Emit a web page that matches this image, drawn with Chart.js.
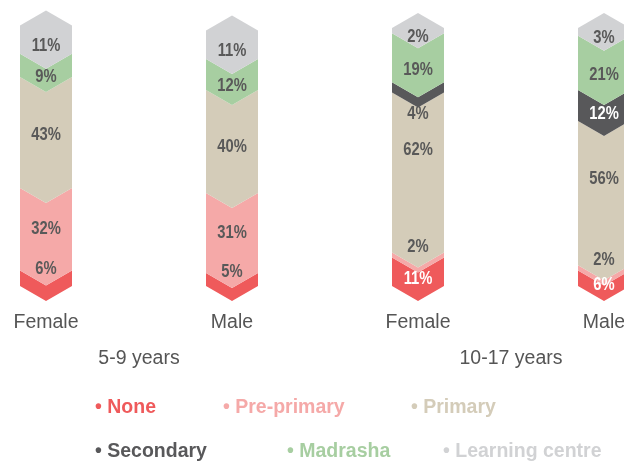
<!DOCTYPE html>
<html>
<head>
<meta charset="utf-8">
<script src="https://cdn.jsdelivr.net/npm/chart.js@4.4.0/dist/chart.umd.min.js"></script>
<style>
  html, body { margin: 0; padding: 0; background: #fff; }
</style>
</head>
<body>
<canvas id="eduChart" width="624" height="463"></canvas>
<script>
// DATA
const categories = ['Female', 'Male', 'Female', 'Male'];
const ageGroups = ['5-9 years', '10-17 years'];
const seriesNames = ['None', 'Pre-primary', 'Primary', 'Secondary', 'Madrasha', 'Learning centre'];
const none = [6, 5, 11, 6];
const prePrimary = [32, 31, 2, 2];
const primary = [43, 40, 62, 56];
const secondary = [0, 0, 4, 12];
const madrasha = [9, 12, 19, 21];
const learningCentre = [11, 11, 2, 3];
const seriesData = [none, prePrimary, primary, secondary, madrasha, learningCentre];

// STYLE
const colors = ['#ef5a5b', '#f5a9a8', '#d4ccb9', '#58585a', '#a7cea1', '#d1d2d4'];
const textDark = '#595959';
const chevron = 15;
const labelShift = [0.45, 0, 0.4, 0.6, 0.8, 0.4];
const legendSpots = [[95, 408], [223, 408], [411, 408], [95, 452], [287, 452], [443, 452]];
const fontMain = "'Liberation Sans', Arial, sans-serif";

// chevron shaped segments + percent labels
const chevronBars = {
    id: 'chevronBars',
    beforeDatasetsDraw(chart) {
        const ctx = chart.ctx;
        const sets = chart.data.datasets;
        ctx.save();
        for (let col = 0; col < chart.data.labels.length; col++) {
            let topIdx = -1;
            sets.forEach((ds, i) => { if (ds.data[col] > 0) topIdx = i; });

            sets.forEach((ds, i) => {
                if (!ds.data[col]) return;
                const bar = chart.getDatasetMeta(i).data[col];
                const l = bar.x - bar.width / 2, r = bar.x + bar.width / 2;
                ctx.beginPath();
                ctx.moveTo(l, bar.base);
                ctx.lineTo(bar.x, bar.base + chevron);
                ctx.lineTo(r, bar.base);
                ctx.lineTo(r, bar.y);
                ctx.lineTo(bar.x, i === topIdx ? bar.y - chevron : bar.y + chevron);
                ctx.lineTo(l, bar.y);
                ctx.closePath();
                ctx.fillStyle = ds.backgroundColor;
                ctx.fill();
            });

            ctx.font = "bold 18px " + fontMain;
            ctx.textAlign = 'center';
            ctx.textBaseline = 'middle';
            sets.forEach((ds, i) => {
                const v = ds.data[col];
                if (!v) return;
                const bar = chart.getDatasetMeta(i).data[col];
                const h = bar.base - bar.y;
                let y = (bar.y + bar.base) / 2 + labelShift[i] * chevron;
                let color = textDark;
                if (i === 0) {
                    if (sets[1].data[col] >= 10) y = bar.y - 1;
                    else color = '#fff';
                } else if (i === 1 && v < 5) {
                    y = bar.y - 5;
                } else if (i === 2) {
                    y = bar.y + Math.min(h / 2 + 6, 58);
                } else if (i === 3) {
                    if (v < 6) y = bar.base + chevron + 7;
                    else color = '#fff';
                }
                // squeeze the text a bit, the original uses a narrow face
                ctx.save();
                ctx.translate(bar.x, y);
                ctx.scale(0.82, 1);
                ctx.fillStyle = color;
                ctx.fillText(v + '%', 0, 0);
                ctx.restore();
            });
        }
        ctx.restore();
        return false;
    }
};

// age groups and legend under the axis
const textLayer = {
    id: 'textLayer',
    afterDraw(chart) {
        const ctx = chart.ctx;
        const x = chart.scales.x;
        ctx.save();
        ctx.textBaseline = 'middle';
        ctx.textAlign = 'center';
        ctx.fillStyle = '#555';
        ctx.font = "19.5px " + fontMain;
        ageGroups.forEach((g, k) => {
            const cx = (x.getPixelForValue(k * 2) + x.getPixelForValue(k * 2 + 1)) / 2;
            ctx.fillText(g, cx, 359);
        });

        ctx.textAlign = 'left';
        ctx.font = "bold 19.5px " + fontMain;
        seriesNames.forEach((name, i) => {
            ctx.fillStyle = colors[i];
            ctx.fillText('\u2022 ' + name, legendSpots[i][0], legendSpots[i][1]);
        });
        ctx.restore();
    }
};

const ctx = document.getElementById('eduChart').getContext('2d');
new Chart(ctx, {
    type: 'bar',
    data: {
        labels: categories,
        datasets: seriesNames.map((name, i) => ({
            label: name,
            data: seriesData[i],
            backgroundColor: colors[i],
            barThickness: 52
        }))
    },
    options: {
        responsive: false,
        animation: false,
        layout: { padding: { top: 28, left: 46, right: 20, bottom: 0 } },
        plugins: { legend: { display: false }, tooltip: { enabled: false } },
        scales: {
            x: {
                stacked: true,
                offset: false,
                grid: { display: false, drawTicks: false },
                border: { display: false },
                ticks: { color: '#555', font: { family: fontMain, size: 19.5 }, padding: 25, maxRotation: 0 },
                afterFit(s) { s.paddingLeft = 0; s.paddingRight = 0; s.height = 177; }
            },
            y: { stacked: true, display: false, min: 0, max: 100 }
        }
    },
    plugins: [chevronBars, textLayer]
});
</script>
</body>
</html>
